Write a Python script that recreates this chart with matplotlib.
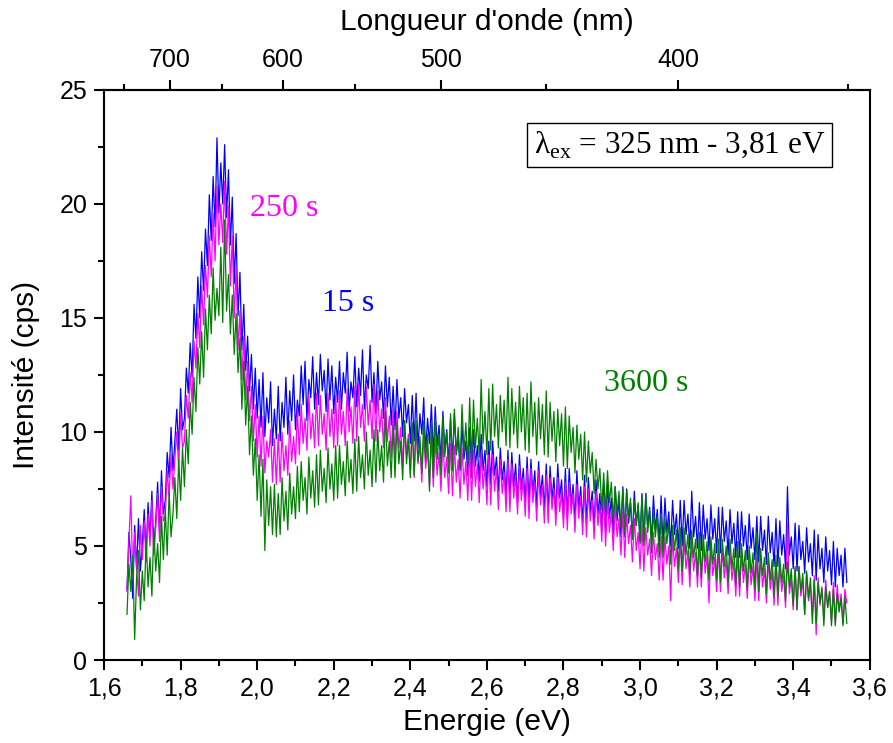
import numpy as np
import matplotlib
matplotlib.use("Agg")
import matplotlib.pyplot as plt
from matplotlib.ticker import MultipleLocator, FuncFormatter, FixedLocator

# ---------------- data (0.005 eV steps from 1.66 eV) ----------------
e_start = 1.66
e_step = 0.005

int_15s = [
 3.1, 5.6, 4.4, 2.7, 5.9, 4.0, 6.2, 3.9, 5.1, 6.6,
 4.6, 6.9, 5.3, 7.4, 4.8, 6.1, 7.8, 5.6, 8.3, 6.4,
 7.0, 9.1, 8.0, 10.2, 8.3, 9.6, 11.0, 9.2, 11.9, 10.1,
 10.6, 12.8, 11.7, 13.9, 12.4, 15.6, 14.1, 16.8, 15.0, 17.9,
 16.2, 18.9, 17.3, 20.4, 18.4, 21.2, 19.0, 22.9, 19.6, 21.8,
 20.0, 22.6, 19.4, 21.5, 18.2, 20.3, 16.5, 18.7, 15.1, 17.0,
 13.6, 15.6, 12.7, 14.2, 11.8, 13.4, 11.0, 12.8, 10.6, 12.3,
 10.2, 12.6, 9.8, 11.5, 10.4, 12.2, 9.4, 11.0, 9.7, 12.0,
 9.6, 11.3, 10.2, 12.4, 9.9, 11.8, 10.5, 12.5, 10.1, 11.4,
 10.7, 12.9, 11.2, 13.1, 10.5, 12.3, 11.5, 13.3, 11.0, 12.6,
 11.2, 13.4, 11.8, 12.7, 10.9, 13.2, 11.4, 12.9, 10.8, 12.4,
 11.3, 13.1, 11.0, 12.6, 11.7, 13.5, 10.9, 12.2, 11.5, 13.3,
 11.1, 12.8, 11.6, 13.6, 11.0, 12.5, 11.9, 13.8, 11.3, 12.6,
 10.8, 13.1, 11.4, 12.2, 10.6, 12.9, 11.1, 12.4, 10.3, 12.0,
 10.1, 12.3, 10.6, 11.5, 9.8, 11.9, 10.4, 11.2, 9.5, 11.6,
 9.6, 11.7, 9.3, 10.8, 9.9, 11.5, 9.1, 10.6, 9.5, 11.2,
 8.9, 11.1, 9.4, 10.3, 8.7, 10.9, 9.2, 10.1, 8.6, 10.6,
 8.7, 10.8, 9.0, 9.8, 8.3, 10.3, 8.8, 9.6, 8.1, 10.2,
 8.0, 10.1, 8.5, 9.4, 7.8, 9.9, 8.3, 9.2, 7.6, 9.6,
 7.7, 9.6, 8.1, 8.9, 7.4, 9.3, 7.9, 8.7, 7.2, 9.2,
 7.0, 9.1, 7.6, 8.6, 6.9, 9.0, 7.5, 8.4, 6.8, 8.9,
 6.9, 8.8, 7.3, 8.3, 6.7, 8.7, 7.2, 8.1, 6.6, 8.6,
 6.5, 8.5, 7.0, 8.0, 6.4, 8.6, 7.1, 7.9, 6.3, 8.4,
 6.2, 8.4, 6.8, 7.7, 6.1, 8.3, 6.6, 7.6, 6.0, 8.1,
 6.0, 8.0, 6.5, 7.4, 5.8, 7.9, 6.4, 7.3, 5.7, 7.8,
 5.6, 7.8, 6.2, 7.1, 5.5, 7.6, 6.1, 7.0, 5.4, 7.6,
 5.4, 7.5, 6.0, 6.9, 5.3, 7.4, 5.9, 6.8, 5.2, 7.3,
 5.2, 7.3, 5.8, 6.7, 5.2, 7.2, 5.7, 6.6, 5.1, 7.2,
 5.0, 7.1, 5.6, 6.5, 5.0, 7.0, 5.5, 6.4, 4.9, 7.0,
 5.0, 7.0, 5.5, 6.4, 4.9, 7.4, 5.4, 6.3, 4.9, 6.9,
 4.8, 6.8, 5.3, 6.2, 4.8, 6.8, 5.3, 6.2, 4.7, 6.7,
 4.7, 6.7, 5.2, 6.1, 4.6, 6.6, 5.1, 6.0, 4.5, 6.5,
 4.5, 6.5, 5.0, 5.9, 4.4, 6.4, 4.9, 5.8, 4.4, 6.3,
 4.3, 6.3, 4.8, 5.7, 4.2, 6.3, 4.7, 5.6, 4.1, 6.2,
 4.1, 6.1, 4.6, 5.5, 4.0, 7.6, 4.6, 5.4, 4.0, 6.0,
 3.9, 5.9, 4.4, 5.2, 3.8, 5.8, 4.3, 5.1, 3.7, 5.7,
 3.5, 5.5, 4.0, 4.9, 3.4, 5.4, 3.9, 4.8, 3.3, 5.2,
 3.2, 4.9, 3.7, 4.6, 3.2, 4.9, 3.4,
]

int_250s = [
 3.0, 5.2, 7.2, 3.6, 5.6, 4.1, 2.8, 5.9, 4.4, 6.1,
 4.3, 6.4, 5.0, 7.0, 4.6, 5.8, 7.3, 5.2, 7.6, 6.1,
 6.3, 8.3, 7.2, 9.0, 7.5, 8.8, 10.0, 8.4, 10.8, 9.3,
 9.6, 11.6, 10.6, 12.6, 11.3, 14.0, 12.8, 15.2, 13.7, 16.4,
 14.7, 17.3, 15.9, 18.6, 16.8, 19.6, 17.5, 20.8, 18.2, 20.0,
 18.3, 21.0, 17.8, 19.9, 16.4, 18.6, 15.0, 17.2, 13.6, 15.3,
 12.3, 14.2, 11.4, 13.1, 10.5, 12.0, 9.6, 11.2, 8.9, 10.7,
 8.5, 10.7, 8.2, 9.6, 8.9, 10.1, 7.8, 9.7, 7.7, 9.9,
 7.8, 10.0, 8.3, 9.4, 8.1, 10.5, 8.7, 9.8, 8.6, 11.0,
 9.0, 11.2, 9.5, 10.6, 9.2, 11.6, 9.7, 10.8, 9.3, 11.7,
 9.4, 11.6, 9.9, 10.8, 9.2, 11.7, 9.8, 11.0, 9.3, 11.6,
 9.4, 11.8, 9.9, 10.9, 9.4, 11.9, 10.0, 11.1, 9.5, 12.0,
 9.6, 12.1, 10.2, 11.2, 9.6, 12.0, 10.3, 11.4, 9.7, 12.1,
 9.6, 11.8, 10.0, 11.0, 9.3, 11.5, 9.6, 10.7, 8.9, 11.0,
 8.8, 10.9, 9.3, 10.2, 8.5, 10.5, 9.0, 9.9, 8.2, 10.3,
 8.0, 10.2, 8.6, 9.5, 7.8, 9.9, 8.4, 9.3, 7.6, 9.8,
 7.6, 9.7, 8.1, 9.1, 7.4, 9.6, 8.0, 8.9, 7.3, 9.5,
 7.2, 9.4, 7.8, 8.8, 7.1, 9.3, 7.7, 8.7, 7.0, 9.3,
 7.0, 9.2, 7.6, 8.6, 6.9, 9.1, 7.5, 8.5, 6.8, 9.0,
 6.8, 9.0, 7.4, 8.4, 6.6, 8.8, 7.3, 8.2, 6.5, 8.8,
 6.5, 8.6, 7.1, 8.1, 6.4, 8.5, 7.0, 8.0, 6.3, 8.4,
 6.2, 8.4, 6.9, 7.8, 6.1, 8.3, 6.8, 7.7, 6.0, 8.1,
 6.0, 8.0, 6.6, 7.5, 5.9, 8.0, 6.5, 7.4, 5.8, 7.8,
 5.7, 7.8, 6.4, 7.3, 5.6, 7.7, 6.2, 7.2, 5.5, 7.6,
 5.4, 7.5, 6.1, 7.0, 5.3, 7.4, 5.9, 6.8, 5.2, 7.2,
 5.0, 7.0, 5.6, 6.5, 4.8, 6.8, 5.4, 6.2, 4.6, 6.5,
 4.5, 6.4, 5.1, 5.9, 4.3, 6.2, 4.8, 5.6, 4.0, 5.9,
 3.9, 5.8, 4.6, 5.3, 3.7, 5.6, 4.4, 5.1, 3.5, 5.4,
 3.5, 5.4, 4.2, 5.0, 2.6, 5.4, 4.1, 4.9, 3.4, 5.3,
 3.3, 5.3, 4.0, 4.8, 3.2, 5.2, 3.9, 4.7, 3.2, 5.1,
 3.2, 5.1, 3.8, 4.6, 2.5, 5.0, 3.7, 4.5, 3.0, 4.9,
 3.0, 4.9, 3.6, 4.4, 2.9, 4.8, 3.5, 4.3, 2.8, 4.7,
 2.8, 4.7, 3.4, 4.2, 2.7, 4.6, 3.3, 4.1, 2.6, 4.5,
 2.6, 4.5, 3.2, 4.0, 2.5, 4.4, 3.1, 3.9, 2.4, 4.3,
 2.4, 4.2, 3.0, 3.7, 2.3, 6.0, 2.9, 3.6, 2.2, 4.0,
 2.2, 4.1, 2.8, 3.5, 2.0, 3.8, 2.6, 3.3, 1.9, 3.7,
 1.1, 3.6, 2.4, 3.1, 1.8, 3.5, 2.3, 3.0, 1.7, 3.4,
 1.6, 3.3, 2.2, 2.9, 1.6, 3.1, 2.5,
]

int_3600s = [
 2.0, 4.2, 3.0, 4.6, 0.9, 3.6, 4.8, 2.2, 3.9, 2.6,
 5.3, 3.2, 4.5, 2.8, 5.8, 3.9, 5.1, 3.4, 6.3, 4.4,
 6.6, 4.6, 7.4, 5.4, 6.4, 8.0, 6.2, 8.8, 7.0, 9.3,
 7.6, 10.1, 8.6, 11.3, 9.9, 12.4, 10.9, 13.7, 12.1, 14.4,
 12.4, 15.4, 13.6, 16.0, 14.3, 17.2, 14.9, 16.3, 15.1, 18.1,
 14.8, 19.3, 15.3, 16.9, 14.3, 16.0, 13.4, 15.2, 12.6, 14.1,
 11.0, 13.1, 10.3, 12.0, 9.0, 10.7, 8.1, 9.7, 7.0, 9.0,
 6.3, 8.8, 4.8, 7.9, 5.9, 7.6, 5.5, 7.7, 5.4, 7.3,
 5.5, 8.0, 6.1, 7.4, 5.7, 8.2, 6.4, 7.6, 6.2, 8.5,
 6.5, 8.7, 7.0, 8.0, 6.4, 8.9, 7.1, 8.3, 6.7, 9.0,
 6.8, 9.2, 7.4, 8.4, 6.9, 9.3, 7.5, 8.6, 7.0, 9.4,
 7.1, 9.4, 7.7, 8.7, 7.2, 9.6, 7.8, 8.8, 7.3, 9.7,
 7.4, 9.8, 8.0, 9.0, 7.5, 10.0, 8.1, 9.2, 7.6, 10.1,
 7.8, 10.1, 8.3, 9.4, 7.8, 10.9, 8.5, 9.6, 8.0, 10.3,
 8.0, 10.4, 8.6, 9.6, 7.9, 10.5, 8.6, 9.7, 8.0, 10.4,
 8.1, 10.5, 8.7, 9.8, 8.2, 10.5, 8.8, 9.9, 7.4, 10.4,
 8.0, 10.6, 8.8, 9.9, 8.1, 10.7, 8.9, 10.0, 8.2, 10.8,
 8.3, 11.0, 9.0, 10.2, 8.4, 11.2, 9.1, 10.4, 8.6, 11.5,
 8.7, 11.4, 9.3, 10.6, 8.9, 12.3, 9.5, 10.9, 9.0, 11.9,
 9.2, 12.1, 9.8, 11.2, 9.3, 11.6, 10.0, 11.4, 9.4, 12.4,
 9.3, 11.9, 9.9, 11.3, 9.3, 12.0, 10.0, 11.5, 9.2, 11.7,
 9.1, 12.2, 9.8, 11.3, 9.0, 11.5, 9.7, 11.2, 9.0, 11.8,
 8.9, 11.3, 9.6, 10.9, 8.7, 11.0, 9.4, 10.8, 8.5, 11.1,
 8.4, 10.7, 9.1, 10.2, 8.2, 10.3, 8.8, 9.9, 7.9, 10.0,
 7.8, 9.6, 8.2, 9.1, 7.3, 8.8, 7.5, 8.4, 6.6, 8.2,
 6.5, 8.3, 6.9, 7.8, 6.1, 7.6, 6.4, 7.4, 5.8, 7.5,
 5.6, 7.4, 6.2, 7.1, 5.3, 7.0, 5.9, 6.9, 5.1, 7.2,
 5.0, 7.3, 5.6, 6.6, 4.7, 6.5, 5.4, 6.3, 4.5, 6.4,
 4.5, 6.2, 5.1, 6.0, 4.2, 5.9, 4.8, 5.7, 4.0, 5.8,
 3.9, 5.8, 4.6, 5.5, 3.8, 5.7, 4.5, 5.3, 3.7, 5.6,
 3.6, 5.5, 4.3, 5.2, 3.5, 5.4, 4.2, 5.1, 3.5, 5.3,
 3.4, 5.3, 4.1, 5.0, 3.4, 5.3, 4.0, 4.9, 3.3, 5.2,
 3.2, 5.1, 3.9, 4.8, 3.1, 5.0, 3.8, 4.7, 3.1, 5.6,
 3.0, 4.9, 3.7, 4.5, 2.9, 4.7, 3.5, 4.4, 2.8, 4.6,
 2.8, 4.5, 3.4, 4.2, 2.6, 4.3, 3.2, 4.0, 2.4, 4.1,
 2.2, 4.1, 3.0, 3.8, 2.0, 3.9, 2.7, 3.6, 1.6, 3.5,
 1.6, 3.4, 2.5, 3.2, 1.5, 3.2, 2.3, 3.0, 1.5, 3.1,
 1.5, 2.9, 2.1, 2.7, 1.5, 2.8, 1.6,
]

series_names = ["15 s", "250 s", "3600 s"]
series_colors = ["#0000ff", "#ff00ff", "#008000"]
series_values = [int_15s, int_250s, int_3600s]

x_ticks = [1.6, 1.8, 2.0, 2.2, 2.4, 2.6, 2.8, 3.0, 3.2, 3.4, 3.6]
y_ticks = [0, 5, 10, 15, 20, 25]
top_ticks = [400, 500, 600, 700]
top_minor_ticks = [350, 450, 550, 650, 750]
hc = 1239.84  # eV.nm

# ---------------- figure ----------------
plt.rcParams["font.family"] = ["Liberation Sans", "DejaVu Sans"]
plt.rcParams["mathtext.fontset"] = "custom"
plt.rcParams["mathtext.rm"] = "Liberation Serif"

fig = plt.figure(figsize=(8.93, 7.43), dpi=100)
ax = fig.add_axes([0.1165, 0.1117, 0.8575, 0.7673])

for vals, col in zip(series_values, series_colors):
    e = e_start + e_step * np.arange(len(vals))
    ax.plot(e, vals, color=col, lw=0.9)

ax.set_xlim(1.6, 3.6)
ax.set_ylim(0, 25)
ax.set_xticks(x_ticks)
ax.set_yticks(y_ticks)
ax.xaxis.set_minor_locator(MultipleLocator(0.1))
ax.yaxis.set_minor_locator(MultipleLocator(2.5))
ax.xaxis.set_major_formatter(FuncFormatter(lambda v, p: f"{v:.1f}".replace(".", ",")))

ax.tick_params(which="major", direction="out", length=7, width=1.5, labelsize=18,
               top=False, right=False, pad=5)
ax.tick_params(which="minor", direction="out", length=4.5, width=1.5, top=False, right=False)
for s in ax.spines.values():
    s.set_linewidth(1.5)

ax.set_xlabel("Energie (eV)", fontsize=21.5, labelpad=5)
ax.set_ylabel("Intensité (cps)", fontsize=21.5, labelpad=14)


def e2w(e):
    e = np.asarray(e, dtype=float)
    with np.errstate(divide="ignore"):
        return np.where(e != 0, hc / np.where(e != 0, e, 1), np.inf)


secax = ax.secondary_xaxis("top", functions=(e2w, e2w))
secax.xaxis.set_major_locator(FixedLocator(top_ticks))
secax.xaxis.set_minor_locator(FixedLocator(top_minor_ticks))
secax.tick_params(which="major", direction="out", length=7, width=1.5, labelsize=18, pad=6)
secax.tick_params(which="minor", direction="out", length=4.5, width=1.5)
secax.spines["top"].set_linewidth(1.5)
secax.set_xlabel("Longueur d'onde (nm)", fontsize=21.5, labelpad=13)

serif = ["Liberation Serif", "DejaVu Serif"]
ax.text(1.981, 19.45, "250 s", color="#ff00ff", fontsize=23, family=serif)
ax.text(2.169, 15.3, "15 s", color="#0000ff", fontsize=23, family=serif)
ax.text(2.905, 11.8, "3600 s", color="#008000", fontsize=23, family=serif)

ax.text(0.752, 0.9035, "λ$_{\\mathrm{ex}}$ = 325 nm - 3,81 eV", transform=ax.transAxes,
        fontsize=22.5, family=serif, ha="center", va="center",
        bbox=dict(boxstyle="square,pad=0.22", fc="white", ec="black", lw=1.0))

fig.savefig("out.png", dpi=100)
